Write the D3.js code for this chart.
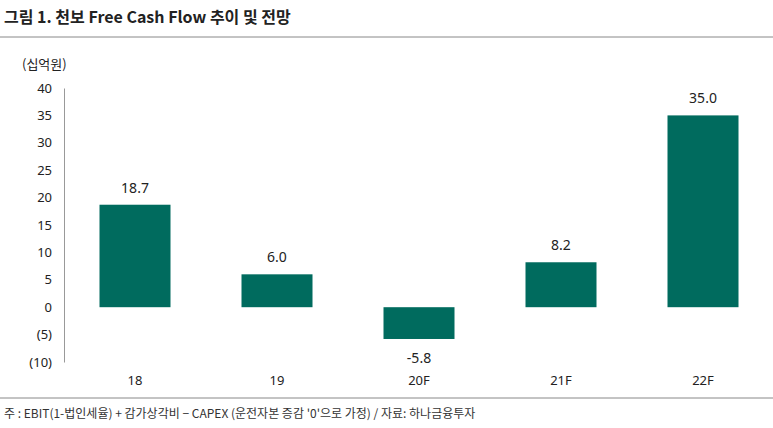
<!DOCTYPE html>
<html><head><meta charset="utf-8">
<script src="https://cdn.jsdelivr.net/npm/d3@7"></script>
<style>
body{margin:0;background:#fff;font-family:"Noto Sans CJK KR","Noto Sans",sans-serif;}
</style></head>
<body><svg id="chart" width="773" height="428"></svg>
<script>
let categories = ["18", "19", "20F", "21F", "22F"];
let values = [18.7, 6.0, -5.8, 8.2, 35.0];
let valueLabels = ["18.7", "6.0", "-5.8", "8.2", "35.0"];
let yTicks = [-10, -5, 0, 5, 10, 15, 20, 25, 30, 35, 40];

let svg = d3.select("#chart");
let margin = { top: 88, left: 64, right: 774, bottom: 362 };

svg.append("text").attr("x", 4).attr("y", 23)
    .style("font-size", "16px").style("font-weight", "bold").attr("fill", "#222")
    .text("그림 1. 천보 Free Cash Flow 추이 및 전망");
svg.append("line").attr("x1", 0).attr("x2", 773).attr("y1", 37).attr("y2", 37)
    .attr("stroke", "#888").attr("stroke-width", 1);
svg.append("line").attr("x1", 0).attr("x2", 773).attr("y1", 398).attr("y2", 398)
    .attr("stroke", "#888").attr("stroke-width", 1);

svg.append("text").attr("x", 22).attr("y", 69)
    .style("font-size", "13px").attr("fill", "#222").text("(십억원)");

let yScale = d3.scaleLinear().domain([-10, 40]).range([margin.bottom, margin.top]);
let xScale = d3.scaleBand().domain(categories).range([margin.left, margin.right])
    .paddingInner(0.5).paddingOuter(0.25);

let yAxis = d3.axisLeft(yScale).tickValues(yTicks).tickSize(0).tickPadding(12)
    .tickFormat(d => d < 0 ? "(" + (-d) + ")" : d);
let ga = svg.append("g").attr("transform", `translate(${margin.left},0)`).call(yAxis);
ga.select(".domain").attr("stroke", "#999");
ga.selectAll("text").style("font-size", "13px").attr("fill", "#222")
    .style("font-family", "'Noto Sans',sans-serif");

svg.selectAll("rect.bar").data(values).enter().append("rect")
    .attr("class", "bar")
    .attr("x", (d, i) => xScale(categories[i]))
    .attr("width", xScale.bandwidth())
    .attr("y", d => yScale(Math.max(d, 0)))
    .attr("height", d => Math.abs(yScale(d) - yScale(0)))
    .attr("fill", "#006b5e");

svg.selectAll("text.val").data(values).enter().append("text")
    .attr("class", "val")
    .attr("x", (d, i) => xScale(categories[i]) + xScale.bandwidth() / 2)
    .attr("y", d => d >= 0 ? yScale(d) - 12 : yScale(d) + 24)
    .attr("text-anchor", "middle").style("font-size", "14px").attr("fill", "#222")
    .style("font-family", "'Noto Sans',sans-serif")
    .text((d, i) => valueLabels[i]);

svg.selectAll("text.cat").data(categories).enter().append("text")
    .attr("class", "cat")
    .attr("x", d => xScale(d) + xScale.bandwidth() / 2)
    .attr("y", 385)
    .attr("text-anchor", "middle").style("font-size", "13px").attr("fill", "#222")
    .style("font-family", "'Noto Sans',sans-serif")
    .text(d => d);

svg.append("text").attr("x", 4).attr("y", 418)
    .style("font-size", "12px").attr("fill", "#333")
    .text("주 : EBIT(1-법인세율) + 감가상각비 − CAPEX (운전자본 증감 '0'으로 가정) / 자료: 하나금융투자");
</script></body></html>
